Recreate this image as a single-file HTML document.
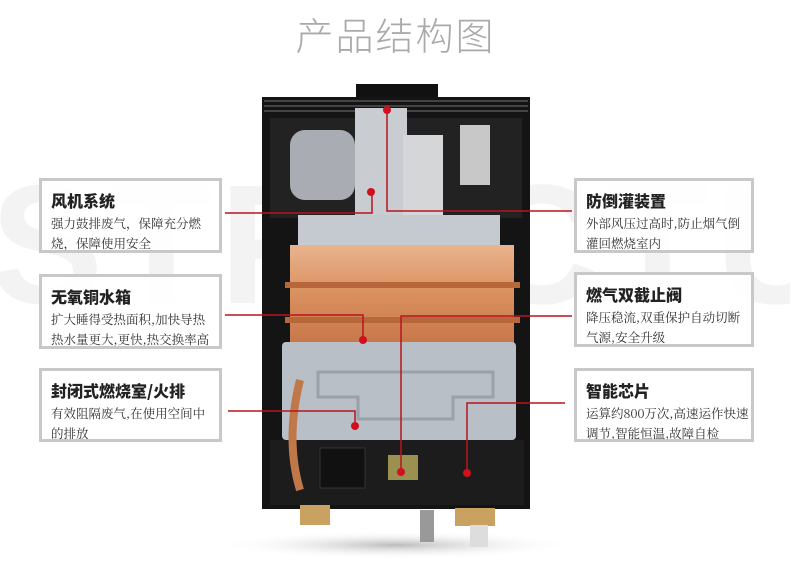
<!DOCTYPE html>
<html><head><meta charset="utf-8"><style>
html,body{margin:0;width:791px;height:566px;overflow:hidden}
body{background:#fff;position:relative;font-family:"Liberation Sans","Noto Sans CJK SC",sans-serif}
.a{position:absolute}
.box{position:absolute;border:3px solid #c8c8c8;background:rgba(255,255,255,.92);box-sizing:border-box;padding:8px 0 0 9px;white-space:nowrap;overflow:hidden}
.box b{display:block;font-size:16px;color:#222;font-family:"Noto Sans CJK SC",sans-serif;font-weight:900;line-height:22px}
.box p{margin:2px 0 0;font-size:12.5px;color:#333;line-height:20px;font-family:"Noto Serif CJK SC",serif}
.wm{position:absolute;top:170px;left:-10px;width:800px;overflow:hidden;white-space:nowrap;font-size:170px;font-weight:bold;color:#f3f3f3;letter-spacing:6px;font-family:"Liberation Sans",sans-serif;line-height:150px}
</style></head><body>
<div class="wm">STRUCTURE</div>
<div class="a" style="left:0;width:791px;top:6px;text-align:center;font-size:38px;color:#aaa;font-family:'Noto Sans CJK SC',sans-serif;font-weight:300;letter-spacing:2px">产品结构图</div>
<svg class="a" style="left:0;top:0" width="791" height="566">
<defs><radialGradient id="sh"><stop offset="0" stop-color="#bbb"/><stop offset="1" stop-color="#fff" stop-opacity="0"/></radialGradient>
<linearGradient id="cu" x1="0" y1="0" x2="0" y2="1"><stop offset="0" stop-color="#e9b48e"/><stop offset=".5" stop-color="#d98f5e"/><stop offset="1" stop-color="#c7774a"/></linearGradient></defs>
<ellipse cx="396" cy="545" rx="180" ry="14" fill="url(#sh)"/>
<rect x="356" y="84" width="82" height="16" fill="#111"/>
<rect x="262" y="97" width="268" height="412" fill="#141414"/>
<g stroke="#555" stroke-width="1.5"><line x1="264" y1="101" x2="528" y2="101"/><line x1="264" y1="106" x2="528" y2="106"/><line x1="264" y1="111" x2="528" y2="111"/></g>
<rect x="270" y="118" width="252" height="100" fill="#222"/>
<rect x="290" y="130" width="65" height="70" rx="15" fill="#a9adb3"/>
<rect x="355" y="108" width="52" height="108" fill="#c9ccd0"/>
<rect x="403" y="135" width="40" height="85" fill="#d4d6d8"/>
<rect x="460" y="125" width="30" height="60" fill="#c8c8c8"/>
<rect x="298" y="215" width="202" height="32" fill="#c4cad0"/>
<rect x="290" y="245" width="224" height="100" fill="url(#cu)"/>
<g stroke="#b8673a" stroke-width="6"><line x1="285" y1="285" x2="520" y2="285"/><line x1="285" y1="320" x2="520" y2="320"/></g>
<rect x="282" y="342" width="234" height="98" rx="4" fill="#b9bfc6"/>
<path d="M318 372h175v25h-40v22h-95v-22h-40z" fill="none" stroke="#9aa1a8" stroke-width="3"/>
<rect x="270" y="440" width="254" height="65" fill="#1c1c1c"/>
<rect x="320" y="448" width="45" height="40" fill="#111" stroke="#333"/>
<rect x="388" y="455" width="30" height="25" fill="#9a9050"/>
<path d="M300 380 q-15 60 0 110" stroke="#c0784a" stroke-width="8" fill="none"/>
<rect x="300" y="505" width="30" height="20" fill="#c9a262"/>
<rect x="420" y="510" width="14" height="32" fill="#999"/>
<rect x="455" y="508" width="40" height="18" fill="#c9a262"/>
<rect x="470" y="525" width="18" height="22" fill="#ddd"/>
<g stroke="#b8141e" stroke-width="1.5" fill="none">
<polyline points="225,213 372,213 372,192"/>
<polyline points="572,211 387,211 387,110"/>
<polyline points="225,315 363,315 363,340"/>
<polyline points="572,316 401,316 401,472"/>
<polyline points="228,411 355,411 355,426"/>
<polyline points="565,403 467,403 467,473"/>
</g>
<g fill="#d0101e"><circle cx="371" cy="192" r="4"/><circle cx="387" cy="110" r="4"/><circle cx="363" cy="340" r="4"/><circle cx="401" cy="472" r="4"/><circle cx="355" cy="426" r="4"/><circle cx="467" cy="473" r="4"/></g>
</svg>
<div class="box" style="left:39px;top:178px;width:183px;height:75px"><b>风机系统</b><p>强力鼓排废气，保障充分燃<br>烧，保障使用安全</p></div>
<div class="box" style="left:39px;top:274px;width:183px;height:75px"><b>无氧铜水箱</b><p>扩大睡得受热面积,加快导热<br>热水量更大,更快,热交换率高</p></div>
<div class="box" style="left:39px;top:368px;width:183px;height:74px"><b>封闭式燃烧室/火排</b><p>有效阻隔废气,在使用空间中<br>的排放</p></div>
<div class="box" style="left:574px;top:178px;width:180px;height:75px"><b>防倒灌装置</b><p>外部风压过高时,防止烟气倒<br>灌回燃烧室内</p></div>
<div class="box" style="left:574px;top:272px;width:180px;height:75px"><b>燃气双截止阀</b><p>降压稳流,双重保护自动切断<br>气源,安全升级</p></div>
<div class="box" style="left:574px;top:368px;width:180px;height:74px"><b>智能芯片</b><p>运算约800万次,高速运作快速<br>调节,智能恒温,故障自检</p></div>
</body></html>
